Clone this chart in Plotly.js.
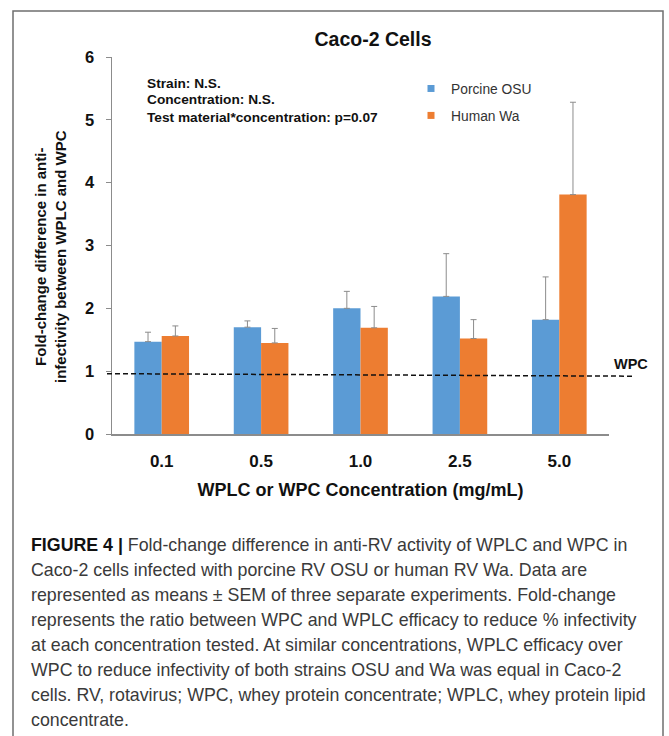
<!DOCTYPE html>
<html>
<head>
<meta charset="utf-8">
<script src="https://cdn.plot.ly/plotly-3.0.1.min.js"></script>
<style>
  html, body { margin: 0; padding: 0; background: #ffffff; }
  #chart { width: 669px; height: 736px; }
</style>
</head>
<body>
<div id="chart"></div>
<script>
// ---- Data ----
const categories = ['0.1', '0.5', '1.0', '2.5', '5.0'];
const porcineOSU = [1.47, 1.70, 2.00, 2.19, 1.82];
const porcineOSUErr = [0.15, 0.10, 0.27, 0.68, 0.68];
const humanWa = [1.56, 1.45, 1.69, 1.52, 3.81];
const humanWaErr = [0.16, 0.23, 0.34, 0.30, 1.47];
const seriesNames = ['Porcine OSU', 'Human Wa'];
const wpcLine = [0.96, 0.92];          // dashed WPC reference level (left end, right end)
const yTicks = [0, 1, 2, 3, 4, 5, 6];
const statsLines = ['Strain: N.S.', 'Concentration: N.S.', 'Test material*concentration: p=0.07'];
const captionLines = [
  '<b>FIGURE 4 |</b> Fold-change difference in anti-RV activity of WPLC and WPC in',
  'Caco-2 cells infected with porcine RV OSU or human RV Wa. Data are',
  'represented as means \u00b1 SEM of three separate experiments. Fold-change',
  'represents the ratio between WPC and WPLC efficacy to reduce % infectivity',
  'at each concentration tested. At similar concentrations, WPLC efficacy over',
  'WPC to reduce infectivity of both strains OSU and Wa was equal in Caco-2',
  'cells. RV, rotavirus; WPC, whey protein concentrate; WPLC, whey protein lipid',
  'concentrate.'
];

// ---- Layout geometry ----
const W = 669, H = 736;
const L = 112, R = 609, T = 57, B = 434;
const px = x => (x - L) / (R - L);        // pixel x -> paper x
const py = y => (B - y) / (B - T);        // pixel y -> paper y

const BLUE = '#5B9BD5', ORANGE = '#ED7D31';
const FONT = 'Liberation Sans, Arial, sans-serif';

const errStyle = { color: '#8c8c8c', thickness: 1, width: 3 };

const traces = [
  {
    type: 'bar', name: seriesNames[0], x: categories, y: porcineOSU,
    marker: { color: BLUE }, showlegend: false,
    error_y: Object.assign({ type: 'data', symmetric: false, array: porcineOSUErr,
      arrayminus: porcineOSUErr.map(() => 0) }, errStyle)
  },
  {
    type: 'bar', name: seriesNames[1], x: categories, y: humanWa,
    marker: { color: ORANGE }, showlegend: false,
    error_y: Object.assign({ type: 'data', symmetric: false, array: humanWaErr,
      arrayminus: humanWaErr.map(() => 0) }, errStyle)
  },
  { type: 'scatter', mode: 'markers', name: seriesNames[0], x: [null], y: [null],
    marker: { symbol: 'square', size: 7, color: BLUE }, legendgroup: 'a' },
  { type: 'scatter', mode: 'markers', name: seriesNames[1], x: [null], y: [null],
    marker: { symbol: 'square', size: 7, color: ORANGE }, legendgroup: 'b' }
];

const annotations = [];
statsLines.forEach((t, i) => {
  annotations.push({
    xref: 'paper', yref: 'paper', x: px(145), y: py(83 + i * 17),
    xanchor: 'left', yanchor: 'middle', showarrow: false, align: 'left',
    text: '<b>' + t + '</b>', font: { family: FONT, size: 13.7, color: '#111' }
  });
});
annotations.push({
  xref: 'paper', yref: 'paper', x: px(631), y: py(364),
  xanchor: 'center', yanchor: 'middle', showarrow: false,
  text: '<b>WPC</b>', font: { family: FONT, size: 14.5, color: '#111' }
});
annotations.push({
  xref: 'paper', yref: 'paper', x: px(50), y: py(257),
  xanchor: 'center', yanchor: 'middle', showarrow: false, textangle: -90,
  text: '<b>Fold-change difference in anti-<br>infectivity between WPLC and WPC</b>',
  font: { family: FONT, size: 15, color: '#111' }
});
captionLines.forEach((t, i) => {
  annotations.push({
    xref: 'paper', yref: 'paper', x: px(29), y: py(545 + i * 25),
    xanchor: 'left', yanchor: 'middle', showarrow: false, align: 'left',
    text: '<span style="color:#3a3a3a">' + t.replace('<b>', '<b style="color:#111">') + '</span>',
    font: { family: FONT, size: 17.8, color: '#3a3a3a' }
  });
});

const layout = {
  width: W, height: H,
  margin: { l: L, r: W - R, t: T, b: H - B, pad: 0 },
  paper_bgcolor: '#ffffff', plot_bgcolor: '#ffffff',
  font: { family: FONT, color: '#111' },
  title: {
    text: '<b>Caco-2 Cells</b>', x: px(373), xref: 'paper', xanchor: 'center',
    y: 1 - 39 / H, yanchor: 'middle', font: { family: FONT, size: 19.5, color: '#111' }
  },
  barmode: 'group', bargap: 0.45, bargroupgap: 0,
  xaxis: {
    type: 'category', showgrid: false, zeroline: false,
    showline: true, linecolor: '#8c8c8c', linewidth: 2,
    ticks: '', ticklabelstandoff: 11,
    tickfont: { family: FONT, size: 17, color: '#111', weight: 'bold' },
    title: { text: '<b>WPLC or WPC Concentration (mg/mL)</b>', standoff: 13,
      font: { family: FONT, size: 18, color: '#111' } },
    automargin: false
  },
  yaxis: {
    range: [0, 6], tickvals: yTicks, showgrid: false, zeroline: false,
    showline: true, linecolor: '#8c8c8c', linewidth: 1.5,
    ticks: 'outside', ticklen: 5, tickcolor: '#8c8c8c', tickwidth: 1,
    ticklabelstandoff: 8,
    tickfont: { family: FONT, size: 16.5, color: '#111', weight: 'bold' },
    automargin: false
  },
  legend: {
    x: px(411), y: py(73), xanchor: 'left', yanchor: 'top',
    bgcolor: 'rgba(0,0,0,0)', traceorder: 'grouped', tracegroupgap: 6,
    itemsizing: 'trace', itemwidth: 30,
    font: { family: FONT, size: 13.8, color: '#333' }
  },
  shapes: [
    { type: 'line', xref: 'paper', yref: 'y', x0: px(107), x1: px(633),
      y0: wpcLine[0], y1: wpcLine[1],
      line: { color: '#111', width: 1.5, dash: '5px,3px' } },
    { type: 'rect', xref: 'paper', yref: 'paper', x0: px(13), x1: px(663),
      y0: py(745), y1: py(11), line: { color: '#6f6f6f', width: 1.5 } }
  ],
  annotations: annotations
};

Plotly.newPlot('chart', traces, layout, { displayModeBar: false, staticPlot: true });
</script>
</body>
</html>
